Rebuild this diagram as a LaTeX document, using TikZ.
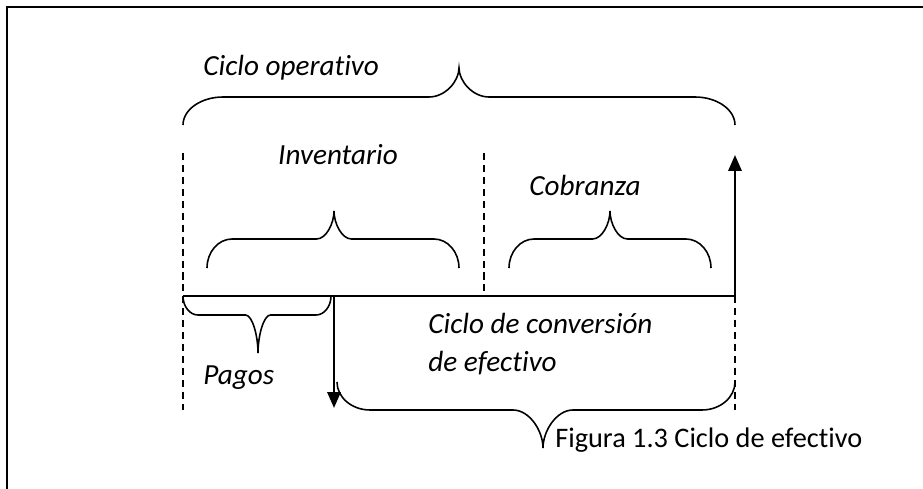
\documentclass[tikz,border=0pt]{standalone}
\usepackage{fontspec}
\setmainfont{Carlito}[Ligatures=NoCommon]
\usetikzlibrary{arrows.meta}
\tikzset{etiqueta/.style={inner sep=0pt, font=\fontsize{16.6}{22}\selectfont\itshape},
 titulo/.style={inner sep=0pt, font=\fontsize{16.1}{18}\selectfont},
 eje/.style={line width=1.1pt},
 guia/.style={line width=0.6pt, dash pattern=on 4pt off 2.8pt},
 llave/.style={line width=0.9pt},
 flecha/.style={line width=1.3pt, -{Triangle[length=9pt,width=7.5pt]}},
 }
% x1, x2, xpunta, yextremo, yplano, ypunta, r, s
\newcommand{\dibujallave}[8]{%
  \draw[llave] (#1,#4) .. controls (#1,{#4+0.55*(#5-#4)}) and ({#1+0.45*#7},#5) .. ({#1+#7},#5)
    -- ({#3-#8},#5) .. controls ({#3-0.45*#8},#5) and (#3,{#5+0.55*(#6-#5)}) .. (#3,#6)
    .. controls (#3,{#5+0.55*(#6-#5)}) and ({#3+0.45*#8},#5) .. ({#3+#8},#5)
    -- ({#2-#7},#5) .. controls ({#2-0.45*#7},#5) and (#2,{#4+0.55*(#5-#4)}) .. (#2,#4);}

\begin{document}
\begin{tikzpicture}
        \useasboundingbox (0,0) rectangle (18.46,9.78);
        % marco
        \draw[line width=1.7pt] (0.14,0) -- (0.14,9.64) -- (18.46,9.64);

        \coordinate (ini) at (3.66,3.86);
        \coordinate (pago) at (6.68,3.86);
        \coordinate (corte) at (9.68,3.86);
        \coordinate (fin) at (14.7,3.86);
        \coordinate (ini-arr) at (3.66,6.72);
        \coordinate (corte-arr) at (9.68,6.72);
        \coordinate (ini-ab) at (3.66,1.58);
        \coordinate (fin-ab) at (14.7,1.58);
        \coordinate (cobro) at (14.7,6.68);
        \coordinate (pago-ab) at (6.68,1.62);

        \draw[guia] (ini-arr) -- (ini-ab);
        \draw[guia] (corte-arr) -- (corte);
        \draw[guia] (fin) -- (fin-ab);
        \draw[eje] (ini) -- (fin);
        \draw[flecha] (fin) -- (cobro);
        \draw[flecha] (pago) -- (pago-ab);

        \node[etiqueta, anchor=west] (operativo) at (4.06,8.42) {Ciclo operativo};
        \node[etiqueta] (inventario) at (6.76,6.68) {Inventario};
        \node[etiqueta] (cobranza) at (11.7,6.08) {Cobranza};
        \node[etiqueta, anchor=west] (pagos) at (4.06,2.22) {Pagos};
        \node[etiqueta, anchor=west, align=left] (conversion) at (8.56,2.9) {Ciclo de conversión\\de efectivo};
        \node[titulo, anchor=west] (figura) at (11.1,0.98) {Figura 1.3 Ciclo de efectivo};

        \dibujallave{3.66}{14.7}{9.18}{7.28}{7.84}{8.42}{0.8}{0.6}
        \dibujallave{4.14}{9.18}{6.68}{4.42}{5.0}{5.56}{0.5}{0.35}
        \dibujallave{10.18}{14.22}{12.2}{4.42}{5.0}{5.56}{0.5}{0.35}
        \dibujallave{3.66}{6.62}{5.16}{3.86}{3.48}{2.72}{0.3}{0.25}
        \dibujallave{6.74}{14.7}{10.86}{2.14}{1.58}{0.82}{0.66}{0.6}
    \end{tikzpicture}
\end{document}
